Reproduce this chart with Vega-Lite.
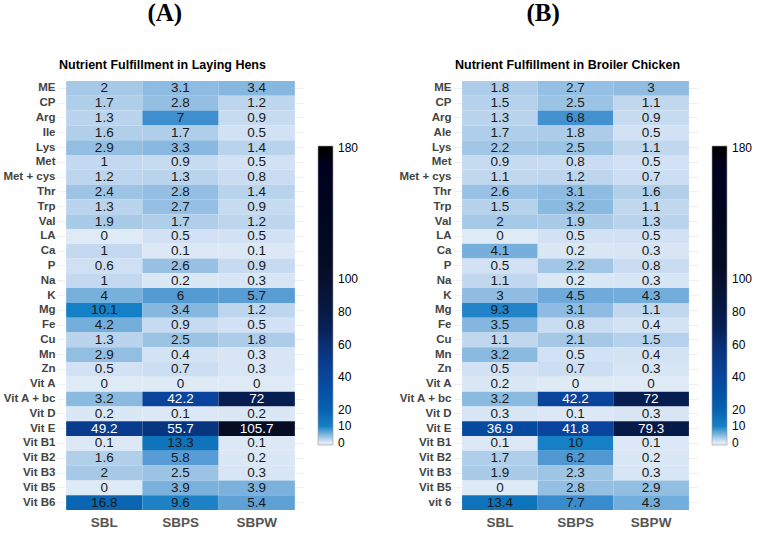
{
  "$schema": "https://vega.github.io/schema/vega-lite/v6.json",
  "padding": {"left": 2, "top": 0, "right": 0, "bottom": 0},
  "background": "white",
  "spacing": 39,
  "config": {
    "view": {"stroke": null},
    "font": "Liberation Sans"
  },
  "datasets": {
    "hens": [
      {"nutrient": "ME", "diet": "SBL", "value": 2}, {"nutrient": "ME", "diet": "SBPS", "value": 3.1}, {"nutrient": "ME", "diet": "SBPW", "value": 3.4},
      {"nutrient": "CP", "diet": "SBL", "value": 1.7}, {"nutrient": "CP", "diet": "SBPS", "value": 2.8}, {"nutrient": "CP", "diet": "SBPW", "value": 1.2},
      {"nutrient": "Arg", "diet": "SBL", "value": 1.3}, {"nutrient": "Arg", "diet": "SBPS", "value": 7}, {"nutrient": "Arg", "diet": "SBPW", "value": 0.9},
      {"nutrient": "Ile", "diet": "SBL", "value": 1.6}, {"nutrient": "Ile", "diet": "SBPS", "value": 1.7}, {"nutrient": "Ile", "diet": "SBPW", "value": 0.5},
      {"nutrient": "Lys", "diet": "SBL", "value": 2.9}, {"nutrient": "Lys", "diet": "SBPS", "value": 3.3}, {"nutrient": "Lys", "diet": "SBPW", "value": 1.4},
      {"nutrient": "Met", "diet": "SBL", "value": 1}, {"nutrient": "Met", "diet": "SBPS", "value": 0.9}, {"nutrient": "Met", "diet": "SBPW", "value": 0.5},
      {"nutrient": "Met + cys", "diet": "SBL", "value": 1.2}, {"nutrient": "Met + cys", "diet": "SBPS", "value": 1.3}, {"nutrient": "Met + cys", "diet": "SBPW", "value": 0.8},
      {"nutrient": "Thr", "diet": "SBL", "value": 2.4}, {"nutrient": "Thr", "diet": "SBPS", "value": 2.8}, {"nutrient": "Thr", "diet": "SBPW", "value": 1.4},
      {"nutrient": "Trp", "diet": "SBL", "value": 1.3}, {"nutrient": "Trp", "diet": "SBPS", "value": 2.7}, {"nutrient": "Trp", "diet": "SBPW", "value": 0.9},
      {"nutrient": "Val", "diet": "SBL", "value": 1.9}, {"nutrient": "Val", "diet": "SBPS", "value": 1.7}, {"nutrient": "Val", "diet": "SBPW", "value": 1.2},
      {"nutrient": "LA", "diet": "SBL", "value": 0}, {"nutrient": "LA", "diet": "SBPS", "value": 0.5}, {"nutrient": "LA", "diet": "SBPW", "value": 0.5},
      {"nutrient": "Ca", "diet": "SBL", "value": 1}, {"nutrient": "Ca", "diet": "SBPS", "value": 0.1}, {"nutrient": "Ca", "diet": "SBPW", "value": 0.1},
      {"nutrient": "P", "diet": "SBL", "value": 0.6}, {"nutrient": "P", "diet": "SBPS", "value": 2.6}, {"nutrient": "P", "diet": "SBPW", "value": 0.9},
      {"nutrient": "Na", "diet": "SBL", "value": 1}, {"nutrient": "Na", "diet": "SBPS", "value": 0.2}, {"nutrient": "Na", "diet": "SBPW", "value": 0.3},
      {"nutrient": "K", "diet": "SBL", "value": 4}, {"nutrient": "K", "diet": "SBPS", "value": 6}, {"nutrient": "K", "diet": "SBPW", "value": 5.7},
      {"nutrient": "Mg", "diet": "SBL", "value": 10.1}, {"nutrient": "Mg", "diet": "SBPS", "value": 3.4}, {"nutrient": "Mg", "diet": "SBPW", "value": 1.2},
      {"nutrient": "Fe", "diet": "SBL", "value": 4.2}, {"nutrient": "Fe", "diet": "SBPS", "value": 0.9}, {"nutrient": "Fe", "diet": "SBPW", "value": 0.5},
      {"nutrient": "Cu", "diet": "SBL", "value": 1.3}, {"nutrient": "Cu", "diet": "SBPS", "value": 2.5}, {"nutrient": "Cu", "diet": "SBPW", "value": 1.8},
      {"nutrient": "Mn", "diet": "SBL", "value": 2.9}, {"nutrient": "Mn", "diet": "SBPS", "value": 0.4}, {"nutrient": "Mn", "diet": "SBPW", "value": 0.3},
      {"nutrient": "Zn", "diet": "SBL", "value": 0.5}, {"nutrient": "Zn", "diet": "SBPS", "value": 0.7}, {"nutrient": "Zn", "diet": "SBPW", "value": 0.3},
      {"nutrient": "Vit A", "diet": "SBL", "value": 0}, {"nutrient": "Vit A", "diet": "SBPS", "value": 0}, {"nutrient": "Vit A", "diet": "SBPW", "value": 0},
      {"nutrient": "Vit A + bc", "diet": "SBL", "value": 3.2}, {"nutrient": "Vit A + bc", "diet": "SBPS", "value": 42.2}, {"nutrient": "Vit A + bc", "diet": "SBPW", "value": 72},
      {"nutrient": "Vit D", "diet": "SBL", "value": 0.2}, {"nutrient": "Vit D", "diet": "SBPS", "value": 0.1}, {"nutrient": "Vit D", "diet": "SBPW", "value": 0.2},
      {"nutrient": "Vit E", "diet": "SBL", "value": 49.2}, {"nutrient": "Vit E", "diet": "SBPS", "value": 55.7}, {"nutrient": "Vit E", "diet": "SBPW", "value": 105.7},
      {"nutrient": "Vit B1", "diet": "SBL", "value": 0.1}, {"nutrient": "Vit B1", "diet": "SBPS", "value": 13.3}, {"nutrient": "Vit B1", "diet": "SBPW", "value": 0.1},
      {"nutrient": "Vit B2", "diet": "SBL", "value": 1.6}, {"nutrient": "Vit B2", "diet": "SBPS", "value": 5.8}, {"nutrient": "Vit B2", "diet": "SBPW", "value": 0.2},
      {"nutrient": "Vit B3", "diet": "SBL", "value": 2}, {"nutrient": "Vit B3", "diet": "SBPS", "value": 2.5}, {"nutrient": "Vit B3", "diet": "SBPW", "value": 0.3},
      {"nutrient": "Vit B5", "diet": "SBL", "value": 0}, {"nutrient": "Vit B5", "diet": "SBPS", "value": 3.9}, {"nutrient": "Vit B5", "diet": "SBPW", "value": 3.9},
      {"nutrient": "Vit B6", "diet": "SBL", "value": 16.8}, {"nutrient": "Vit B6", "diet": "SBPS", "value": 9.6}, {"nutrient": "Vit B6", "diet": "SBPW", "value": 5.4}
    ],
    "broiler": [
      {"nutrient": "ME", "diet": "SBL", "value": 1.8}, {"nutrient": "ME", "diet": "SBPS", "value": 2.7}, {"nutrient": "ME", "diet": "SBPW", "value": 3},
      {"nutrient": "CP", "diet": "SBL", "value": 1.5}, {"nutrient": "CP", "diet": "SBPS", "value": 2.5}, {"nutrient": "CP", "diet": "SBPW", "value": 1.1},
      {"nutrient": "Arg", "diet": "SBL", "value": 1.3}, {"nutrient": "Arg", "diet": "SBPS", "value": 6.8}, {"nutrient": "Arg", "diet": "SBPW", "value": 0.9},
      {"nutrient": "Ale", "diet": "SBL", "value": 1.7}, {"nutrient": "Ale", "diet": "SBPS", "value": 1.8}, {"nutrient": "Ale", "diet": "SBPW", "value": 0.5},
      {"nutrient": "Lys", "diet": "SBL", "value": 2.2}, {"nutrient": "Lys", "diet": "SBPS", "value": 2.5}, {"nutrient": "Lys", "diet": "SBPW", "value": 1.1},
      {"nutrient": "Met", "diet": "SBL", "value": 0.9}, {"nutrient": "Met", "diet": "SBPS", "value": 0.8}, {"nutrient": "Met", "diet": "SBPW", "value": 0.5},
      {"nutrient": "Met + cys", "diet": "SBL", "value": 1.1}, {"nutrient": "Met + cys", "diet": "SBPS", "value": 1.2}, {"nutrient": "Met + cys", "diet": "SBPW", "value": 0.7},
      {"nutrient": "Thr", "diet": "SBL", "value": 2.6}, {"nutrient": "Thr", "diet": "SBPS", "value": 3.1}, {"nutrient": "Thr", "diet": "SBPW", "value": 1.6},
      {"nutrient": "Trp", "diet": "SBL", "value": 1.5}, {"nutrient": "Trp", "diet": "SBPS", "value": 3.2}, {"nutrient": "Trp", "diet": "SBPW", "value": 1.1},
      {"nutrient": "Val", "diet": "SBL", "value": 2}, {"nutrient": "Val", "diet": "SBPS", "value": 1.9}, {"nutrient": "Val", "diet": "SBPW", "value": 1.3},
      {"nutrient": "LA", "diet": "SBL", "value": 0}, {"nutrient": "LA", "diet": "SBPS", "value": 0.5}, {"nutrient": "LA", "diet": "SBPW", "value": 0.5},
      {"nutrient": "Ca", "diet": "SBL", "value": 4.1}, {"nutrient": "Ca", "diet": "SBPS", "value": 0.2}, {"nutrient": "Ca", "diet": "SBPW", "value": 0.3},
      {"nutrient": "P", "diet": "SBL", "value": 0.5}, {"nutrient": "P", "diet": "SBPS", "value": 2.2}, {"nutrient": "P", "diet": "SBPW", "value": 0.8},
      {"nutrient": "Na", "diet": "SBL", "value": 1.1}, {"nutrient": "Na", "diet": "SBPS", "value": 0.2}, {"nutrient": "Na", "diet": "SBPW", "value": 0.3},
      {"nutrient": "K", "diet": "SBL", "value": 3}, {"nutrient": "K", "diet": "SBPS", "value": 4.5}, {"nutrient": "K", "diet": "SBPW", "value": 4.3},
      {"nutrient": "Mg", "diet": "SBL", "value": 9.3}, {"nutrient": "Mg", "diet": "SBPS", "value": 3.1}, {"nutrient": "Mg", "diet": "SBPW", "value": 1.1},
      {"nutrient": "Fe", "diet": "SBL", "value": 3.5}, {"nutrient": "Fe", "diet": "SBPS", "value": 0.8}, {"nutrient": "Fe", "diet": "SBPW", "value": 0.4},
      {"nutrient": "Cu", "diet": "SBL", "value": 1.1}, {"nutrient": "Cu", "diet": "SBPS", "value": 2.1}, {"nutrient": "Cu", "diet": "SBPW", "value": 1.5},
      {"nutrient": "Mn", "diet": "SBL", "value": 3.2}, {"nutrient": "Mn", "diet": "SBPS", "value": 0.5}, {"nutrient": "Mn", "diet": "SBPW", "value": 0.4},
      {"nutrient": "Zn", "diet": "SBL", "value": 0.5}, {"nutrient": "Zn", "diet": "SBPS", "value": 0.7}, {"nutrient": "Zn", "diet": "SBPW", "value": 0.3},
      {"nutrient": "Vit A", "diet": "SBL", "value": 0.2}, {"nutrient": "Vit A", "diet": "SBPS", "value": 0}, {"nutrient": "Vit A", "diet": "SBPW", "value": 0},
      {"nutrient": "Vit A + bc", "diet": "SBL", "value": 3.2}, {"nutrient": "Vit A + bc", "diet": "SBPS", "value": 42.2}, {"nutrient": "Vit A + bc", "diet": "SBPW", "value": 72},
      {"nutrient": "Vit D", "diet": "SBL", "value": 0.3}, {"nutrient": "Vit D", "diet": "SBPS", "value": 0.1}, {"nutrient": "Vit D", "diet": "SBPW", "value": 0.3},
      {"nutrient": "Vit E", "diet": "SBL", "value": 36.9}, {"nutrient": "Vit E", "diet": "SBPS", "value": 41.8}, {"nutrient": "Vit E", "diet": "SBPW", "value": 79.3},
      {"nutrient": "Vit B1", "diet": "SBL", "value": 0.1}, {"nutrient": "Vit B1", "diet": "SBPS", "value": 10}, {"nutrient": "Vit B1", "diet": "SBPW", "value": 0.1},
      {"nutrient": "Vit B2", "diet": "SBL", "value": 1.7}, {"nutrient": "Vit B2", "diet": "SBPS", "value": 6.2}, {"nutrient": "Vit B2", "diet": "SBPW", "value": 0.2},
      {"nutrient": "Vit B3", "diet": "SBL", "value": 1.9}, {"nutrient": "Vit B3", "diet": "SBPS", "value": 2.3}, {"nutrient": "Vit B3", "diet": "SBPW", "value": 0.3},
      {"nutrient": "Vit B5", "diet": "SBL", "value": 0}, {"nutrient": "Vit B5", "diet": "SBPS", "value": 2.8}, {"nutrient": "Vit B5", "diet": "SBPW", "value": 2.9},
      {"nutrient": "vit 6", "diet": "SBL", "value": 13.4}, {"nutrient": "vit 6", "diet": "SBPS", "value": 7.7}, {"nutrient": "vit 6", "diet": "SBPW", "value": 4.3}
    ]
  },
  "resolve": {"scale": {"color": "independent", "x": "independent", "y": "independent"}, "legend": {"color": "independent"}},
  "hconcat": [
    {
      "title": {"text": "(A)", "anchor": "start", "frame": "bounds", "dx": 145, "font": "Liberation Serif", "fontSize": 25, "fontWeight": "bold", "color": "black", "offset": 33},
      "vconcat": [
        {
          "data": {"name": "hens"},
          "title": {"text": "Nutrient Fulfillment in Laying Hens", "anchor": "start", "frame": "group", "dx": 2, "font": "Liberation Sans", "fontSize": 12.5, "fontWeight": "bold", "color": "black", "offset": 10},
          "width": 247,
          "height": 429,
          "encoding": {
            "x": {"field": "diet", "type": "nominal", "sort": ["SBL", "SBPS", "SBPW"],
                  "scale": {"paddingInner": 0, "paddingOuter": 0.12},
                  "axis": {"title": null, "domain": false, "ticks": false, "grid": false, "labelAngle": 0, "labelPadding": 5, "labelFontSize": 13.5, "labelFontWeight": "bold", "labelColor": "#555555", "labelFont": "Liberation Sans"}},
            "y": {"field": "nutrient", "type": "nominal", "sort": null,
                  "scale": {"paddingInner": 0, "paddingOuter": 0},
                  "axis": {"title": null, "domain": false, "ticks": false, "grid": true, "gridColor": "#ebebeb", "gridWidth": 0.8, "zindex": 0, "labelPadding": 2, "labelFontSize": 11.5, "labelFontWeight": "bold", "labelColor": "#444444", "labelFont": "Liberation Sans"}}
          },
          "layer": [
            {
              "mark": {"type": "rect", "strokeWidth": 0, "opacity": 1, "fillOpacity": 1},
              "encoding": {
                "color": {"field": "value", "type": "quantitative",
                  "scale": {"type": "linear", "domain": [-1.5, 0, 1, 2, 4, 7, 10, 17, 42, 56, 72, 106, 180, 181.5],
                            "range": ["#dfeaf7", "#dfeaf7", "#c4d9ef", "#a6c9e7", "#78b0dc", "#3f8fce", "#1680c6", "#0a65b1", "#0a439b", "#08357f", "#061d52", "#050c24", "#000000", "#000000"]},
                  "legend": {"title": null, "orient": "none", "legendX": 261, "legendY": 65, "direction": "vertical", "padding": 0,
                             "gradientLength": 299, "gradientThickness": 15, "gradientStrokeColor": "#9a9a9a", "gradientStrokeWidth": 0.6,
                             "values": [0, 10, 20, 40, 60, 80, 100, 180], "labelFontSize": 12, "labelColor": "black", "labelOffset": 5, "labelOverlap": false, "labelFont": "Liberation Sans"}}
              }
            },
            {
              "mark": {"type": "text", "fontSize": 13.5, "font": "Liberation Sans", "baseline": "middle", "align": "center"},
              "encoding": {
                "text": {"field": "value", "type": "quantitative", "format": ""},
                "color": {"condition": {"test": "datum.value > 30", "value": "white"}, "value": "#1a1a1a"}
              }
            }
          ]
        }
      ]
    },
    {
      "title": {"text": "(B)", "anchor": "start", "frame": "bounds", "dx": 128, "font": "Liberation Serif", "fontSize": 25, "fontWeight": "bold", "color": "black", "offset": 33},
      "vconcat": [
        {
          "data": {"name": "broiler"},
          "title": {"text": "Nutrient Fulfillment in Broiler Chicken", "anchor": "start", "frame": "group", "dx": 2, "font": "Liberation Sans", "fontSize": 12.5, "fontWeight": "bold", "color": "black", "offset": 10},
          "width": 245,
          "height": 429,
          "encoding": {
            "x": {"field": "diet", "type": "nominal", "sort": ["SBL", "SBPS", "SBPW"],
                  "scale": {"paddingInner": 0, "paddingOuter": 0.12},
                  "axis": {"title": null, "domain": false, "ticks": false, "grid": false, "labelAngle": 0, "labelPadding": 5, "labelFontSize": 13.5, "labelFontWeight": "bold", "labelColor": "#555555", "labelFont": "Liberation Sans"}},
            "y": {"field": "nutrient", "type": "nominal", "sort": null,
                  "scale": {"paddingInner": 0, "paddingOuter": 0},
                  "axis": {"title": null, "domain": false, "ticks": false, "grid": true, "gridColor": "#ebebeb", "gridWidth": 0.8, "zindex": 0, "labelPadding": 2, "labelFontSize": 11.5, "labelFontWeight": "bold", "labelColor": "#444444", "labelFont": "Liberation Sans"}}
          },
          "layer": [
            {
              "mark": {"type": "rect", "strokeWidth": 0, "opacity": 1, "fillOpacity": 1},
              "encoding": {
                "color": {"field": "value", "type": "quantitative",
                  "scale": {"type": "linear", "domain": [-1.5, 0, 1, 2, 4, 7, 10, 17, 42, 56, 72, 106, 180, 181.5],
                            "range": ["#dfeaf7", "#dfeaf7", "#c4d9ef", "#a6c9e7", "#78b0dc", "#3f8fce", "#1680c6", "#0a65b1", "#0a439b", "#08357f", "#061d52", "#050c24", "#000000", "#000000"]},
                  "legend": {"title": null, "orient": "none", "legendX": 259, "legendY": 65, "direction": "vertical", "padding": 0,
                             "gradientLength": 299, "gradientThickness": 15, "gradientStrokeColor": "#9a9a9a", "gradientStrokeWidth": 0.6,
                             "values": [0, 10, 20, 40, 60, 80, 100, 180], "labelFontSize": 12, "labelColor": "black", "labelOffset": 5, "labelOverlap": false, "labelFont": "Liberation Sans"}}
              }
            },
            {
              "mark": {"type": "text", "fontSize": 13.5, "font": "Liberation Sans", "baseline": "middle", "align": "center"},
              "encoding": {
                "text": {"field": "value", "type": "quantitative", "format": ""},
                "color": {"condition": {"test": "datum.value > 30", "value": "white"}, "value": "#1a1a1a"}
              }
            }
          ]
        }
      ]
    }
  ]
}
